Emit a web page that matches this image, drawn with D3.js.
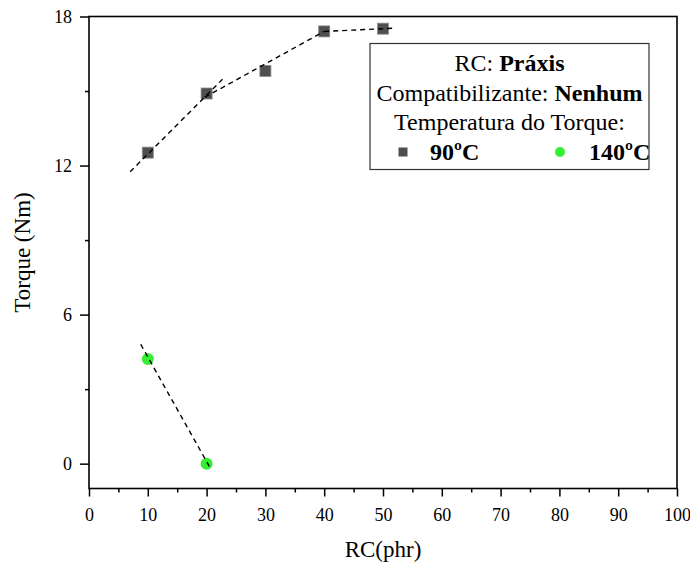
<!DOCTYPE html>
<html>
<head>
<meta charset="utf-8">
<title></title>
<script src="https://cdn.jsdelivr.net/npm/d3@7/dist/d3.min.js"></script>
<style>
  body { margin: 0; background: #fff; }
</style>
</head>
<body>
<script>
var rc90 = [10, 20, 30, 40, 50];
var torque90 = [12.52, 14.9, 15.81, 17.4, 17.51];
var rc140 = [10, 20];
var torque140 = [4.21, 0];
// dashed guide lines drawn by hand in the original plot (x, y pairs)
var guide90 = [[[7, 11.75], [22.7, 15.47]], [[19.7, 14.75], [40, 17.4]], [[40, 17.4], [52, 17.53]]];
var guide140 = [[[8.8, 4.8], [20.7, -0.21]]];
var xTicks = [0, 10, 20, 30, 40, 50, 60, 70, 80, 90, 100];
var xMinor = [5, 15, 25, 35, 45, 55, 65, 75, 85, 95];
var yTicks = [0, 6, 12, 18];
var yMinor = [3, 9, 15];
var legendLines = [["RC: ", "Práxis"], ["Compatibilizante: ", "Nenhum"], ["Temperatura do Torque:", ""]];

var w = 690, h = 567;
var m = {left: 89, right: 13, top: 16.5, bottom: 78.5};
var serif = '"Liberation Serif", "Times New Roman", serif';

var svg = d3.select('body').append('svg')
  .attr('width', w)
  .attr('height', h);

var x = d3.scaleLinear().domain([0, 100]).range([m.left, w - m.right]);
var y = d3.scaleLinear().domain([-1, 18]).range([h - m.bottom, m.top]);

function styleAxis(g) {
  g.select('.domain').remove();
  g.selectAll('line').attr('stroke', '#000').attr('stroke-width', 1.5);
  g.selectAll('text')
    .style('font-family', serif)
    .style('font-size', '18px')
    .attr('fill', '#000');
}

// minor ticks
svg.append('g')
  .attr('transform', 'translate(0,' + y(-1) + ')')
  .call(d3.axisBottom(x).tickValues(xMinor).tickSize(4).tickFormat(''))
  .call(styleAxis);
svg.append('g')
  .attr('transform', 'translate(' + x(0) + ',0)')
  .call(d3.axisLeft(y).tickValues(yMinor).tickSize(4).tickFormat(''))
  .call(styleAxis);

// major ticks
svg.append('g')
  .attr('transform', 'translate(0,' + y(-1) + ')')
  .call(d3.axisBottom(x).tickValues(xTicks).tickSize(8).tickPadding(12))
  .call(styleAxis);
svg.append('g')
  .attr('transform', 'translate(' + x(0) + ',0)')
  .call(d3.axisLeft(y).tickValues(yTicks).tickSize(9).tickPadding(8))
  .call(styleAxis);

// frame
svg.append('rect')
  .attr('x', x(0))
  .attr('y', y(18))
  .attr('width', x(100) - x(0))
  .attr('height', y(-1) - y(18))
  .attr('fill', 'none')
  .attr('stroke', '#000')
  .attr('stroke-width', 1.6);

// markers
svg.selectAll('rect.p90')
  .data(rc90)
  .enter()
  .append('rect')
  .attr('class', 'p90')
  .attr('x', function(d) { return x(d) - 5.5; })
  .attr('y', function(d, i) { return y(torque90[i]) - 5.5; })
  .attr('width', 11)
  .attr('height', 11)
  .attr('fill', '#4f4f4f')
  .attr('stroke', '#8a8a8a')
  .attr('stroke-width', 0.8);

svg.selectAll('circle.p140')
  .data(rc140)
  .enter()
  .append('circle')
  .attr('class', 'p140')
  .attr('cx', function(d) { return x(d); })
  .attr('cy', function(d, i) { return y(torque140[i]); })
  .attr('r', 6)
  .attr('fill', '#33f033');

// dashed guides on top of markers
var line = d3.line()
  .x(function(d) { return x(d[0]); })
  .y(function(d) { return y(d[1]); });

svg.selectAll('path.guide')
  .data(guide90.concat(guide140))
  .enter()
  .append('path')
  .attr('class', 'guide')
  .attr('d', line)
  .attr('fill', 'none')
  .attr('stroke', '#000')
  .attr('stroke-width', 1.4)
  .attr('stroke-dasharray', '5,4');

// axis titles
svg.append('text')
  .attr('x', (x(0) + x(100)) / 2)
  .attr('y', 557)
  .attr('text-anchor', 'middle')
  .style('font-family', serif)
  .style('font-size', '23px')
  .text('RC(phr)');

svg.append('text')
  .attr('transform', 'translate(30,' + (y(-1) + y(18)) / 2 + ') rotate(-90)')
  .attr('text-anchor', 'middle')
  .style('font-family', serif)
  .style('font-size', '23px')
  .text('Torque (Nm)');

// legend
var lg = svg.append('g');
lg.append('rect')
  .attr('x', 370)
  .attr('y', 43.5)
  .attr('width', 279)
  .attr('height', 126)
  .attr('fill', '#fff')
  .attr('stroke', '#333')
  .attr('stroke-width', 1.2);

legendLines.forEach(function(l, i) {
  var t = lg.append('text')
    .attr('x', 509.5)
    .attr('y', 71 + i * 29.5)
    .attr('text-anchor', 'middle')
    .style('font-family', serif)
    .style('font-size', '24px');
  t.append('tspan').text(l[0]);
  if (l[1]) t.append('tspan').style('font-weight', 'bold').text(l[1]);
});

lg.append('rect')
  .attr('x', 398.5).attr('y', 147.5)
  .attr('width', 9).attr('height', 9)
  .attr('fill', '#4f4f4f');
lg.append('text')
  .attr('x', 430).attr('y', 160)
  .style('font-family', serif)
  .style('font-size', '24px').style('font-weight', 'bold')
  .text('90ºC');
lg.append('circle')
  .attr('cx', 560).attr('cy', 152)
  .attr('r', 5)
  .attr('fill', '#33f033');
lg.append('text')
  .attr('x', 589).attr('y', 160)
  .style('font-family', serif)
  .style('font-size', '24px').style('font-weight', 'bold')
  .text('140ºC');
</script>
</body>
</html>
